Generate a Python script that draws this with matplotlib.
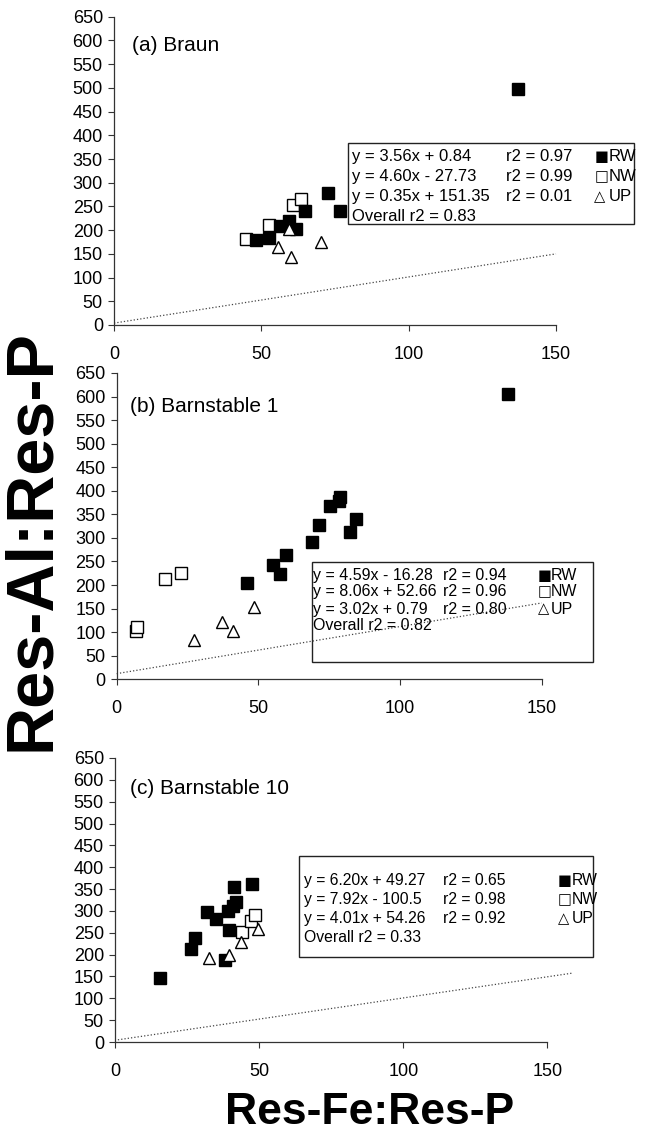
"""
Res-Al:Res-P against Res-Fe:Res-P for three sites
"""
import matplotlib
matplotlib.use("Agg")
from matplotlib import pyplot as plt
from matplotlib.patches import Rectangle

plt.rcParams['font.family'] = ['Liberation Sans', 'DejaVu Sans']

# (a) Braun
a_rw_x = [48.1, 52.5, 56.3, 59.4, 61.9, 64.8, 72.5, 76.7, 137.2]
a_rw_y = [179, 183, 209, 220, 202, 241, 278, 241, 497]
a_nw_x = [44.9, 52.6, 60.8, 63.4]
a_nw_y = [181, 210, 253, 265]
a_up_x = [55.7, 59.4, 60.2, 70.1]
a_up_y = [164, 202, 144, 176]
a_line_x = [0, 150]
a_line_y = [4, 150]
a_eqs = ["y = 3.56x + 0.84", "y = 4.60x - 27.73", "y = 0.35x + 151.35"]
a_r2 = ["r2 = 0.97", "r2 = 0.99", "r2 = 0.01"]
a_overall = "Overall r2 = 0.83"

# (b) Barnstable 1
b_rw_x = [45.9, 55.1, 57.7, 59.6, 68.9, 71.3, 75.4, 78.5, 78.8, 82.2, 84.6, 138.0]
b_rw_y = [205, 243, 224, 264, 291, 327, 368, 378, 386, 312, 340, 605]
b_nw_x = [6.8, 7.0, 17.2, 22.8]
b_nw_y = [103, 112, 212, 225]
b_up_x = [27.3, 37.2, 41.0, 48.4]
b_up_y = [84, 122, 103, 154]
b_line_x = [0, 150]
b_line_y = [12, 162]
b_eqs = ["y = 4.59x - 16.28", "y = 8.06x + 52.66", "y = 3.02x + 0.79"]
b_r2 = ["r2 = 0.94", "r2 = 0.96", "r2 = 0.80"]
b_overall = "Overall r2 = 0.82"

# (c) Barnstable 10
c_rw_x = [15.7, 26.4, 27.6, 31.8, 35.1, 38.3, 39.1, 40.8, 42.0, 39.4, 41.4, 47.4]
c_rw_y = [147, 213, 238, 297, 282, 187, 300, 311, 320, 256, 354, 362]
c_nw_x = [44.0, 47.1, 48.6]
c_nw_y = [252, 276, 291]
c_up_x = [32.5, 39.4, 43.7, 49.7]
c_up_y = [192, 200, 230, 258]
c_line_x = [1, 159]
c_line_y = [5, 158]
c_eqs = ["y = 6.20x + 49.27", "y = 7.92x - 100.5", "y = 4.01x + 54.26"]
c_r2 = ["r2 = 0.65", "r2 = 0.98", "r2 = 0.92"]
c_overall = "Overall r2 = 0.33"

groups = ["RW", "NW", "UP"]
symbols = ["\u25a0", "\u25a1", "\u25b3"]
y_ticks = list(range(0, 651, 50))
x_ticks = [0, 50, 100, 150]

SPINE = "#333333"
TICK_FS = 13

fig = plt.figure(figsize=(6.49, 11.32), dpi=100)


def panel(rect, title, title_xy, rw, nw, up, line, eqs, r2s, overall, box, rows, cols, fs):
    ax = fig.add_axes(rect)
    ax.plot(line[0], line[1], color="#444444", linestyle=":", linewidth=0.9, clip_on=False)
    ax.plot(nw[0], nw[1], "s", ms=8, mfc="white", mec="black", mew=1.0, linestyle="none", clip_on=False)
    ax.plot(rw[0], rw[1], "s", ms=8, mfc="black", mec="black", linestyle="none", clip_on=False)
    ax.plot(up[0], up[1], "^", ms=8, mfc="white", mec="black", mew=1.0, linestyle="none", clip_on=False)

    ax.set_xlim(0, 150)
    ax.set_ylim(0, 650)
    ax.set_xticks(x_ticks)
    ax.set_yticks(y_ticks)
    for s in ["top", "right"]:
        ax.spines[s].set_visible(False)
    for s in ["left", "bottom"]:
        ax.spines[s].set_color(SPINE)
        ax.spines[s].set_linewidth(0.9)
    ax.tick_params(axis="x", direction="out", length=4, width=0.8, color=SPINE,
                   labelsize=TICK_FS, pad=11)
    ax.tick_params(axis="y", direction="out", length=4, width=0.8, color=SPINE,
                   labelsize=TICK_FS, pad=4)

    ax.text(title_xy[0], title_xy[1], title, fontsize=15, va="center", ha="left")

    # equation box
    x0, x1, yb, yt = box
    ax.add_patch(Rectangle((x0, yb), x1 - x0, yt - yb, transform=ax.transAxes,
                           fill=False, edgecolor="#222222", linewidth=1.0, clip_on=False))
    for i in range(3):
        ax.text(cols[0], rows[i], eqs[i], transform=ax.transAxes, fontsize=fs, va="center")
        ax.text(cols[1], rows[i], r2s[i], transform=ax.transAxes, fontsize=fs, va="center")
        ax.text(cols[2], rows[i], symbols[i], transform=ax.transAxes, fontsize=10.5,
                va="center", family=["DejaVu Sans"])
        ax.text(cols[3], rows[i], groups[i], transform=ax.transAxes, fontsize=fs, va="center")
    ax.text(cols[0], rows[3], overall, transform=ax.transAxes, fontsize=fs, va="center")
    return ax


panel([0.1757, 0.7129, 0.6810, 0.2723], "(a) Braun", (6, 590),
      (a_rw_x, a_rw_y), (a_nw_x, a_nw_y), (a_up_x, a_up_y), (a_line_x, a_line_y),
      a_eqs, a_r2, a_overall,
      (0.529, 1.176, 0.328, 0.590), (0.546, 0.481, 0.416, 0.351),
      (0.538, 0.888, 1.087, 1.120), 12)

panel([0.1798, 0.3999, 0.6549, 0.2706], "(b) Barnstable 1", (4.7, 578),
      (b_rw_x, b_rw_y), (b_nw_x, b_nw_y), (b_up_x, b_up_y), (b_line_x, b_line_y),
      b_eqs, b_r2, b_overall,
      (0.459, 1.120, 0.055, 0.383), (0.338, 0.286, 0.229, 0.175),
      (0.463, 0.768, 0.990, 1.022), 11.5)

panel([0.1772, 0.0795, 0.6664, 0.2509], "(c) Barnstable 10", (5.2, 581),
      (c_rw_x, c_rw_y), (c_nw_x, c_nw_y), (c_up_x, c_up_y), (c_line_x, c_line_y),
      c_eqs, c_r2, c_overall,
      (0.425, 1.105, 0.300, 0.655), (0.570, 0.500, 0.436, 0.369),
      (0.437, 0.759, 1.024, 1.055), 11.3)

fig.text(32 / 649, 1 - 540 / 1132, "Res-Al:Res-P", rotation=90, fontsize=48,
         fontweight="bold", ha="center", va="center")
fig.text(370 / 649, 1 - 1112 / 1132, "Res-Fe:Res-P", fontsize=32,
         fontweight="bold", ha="center", va="center")

fig.savefig("out.png", dpi=100)
